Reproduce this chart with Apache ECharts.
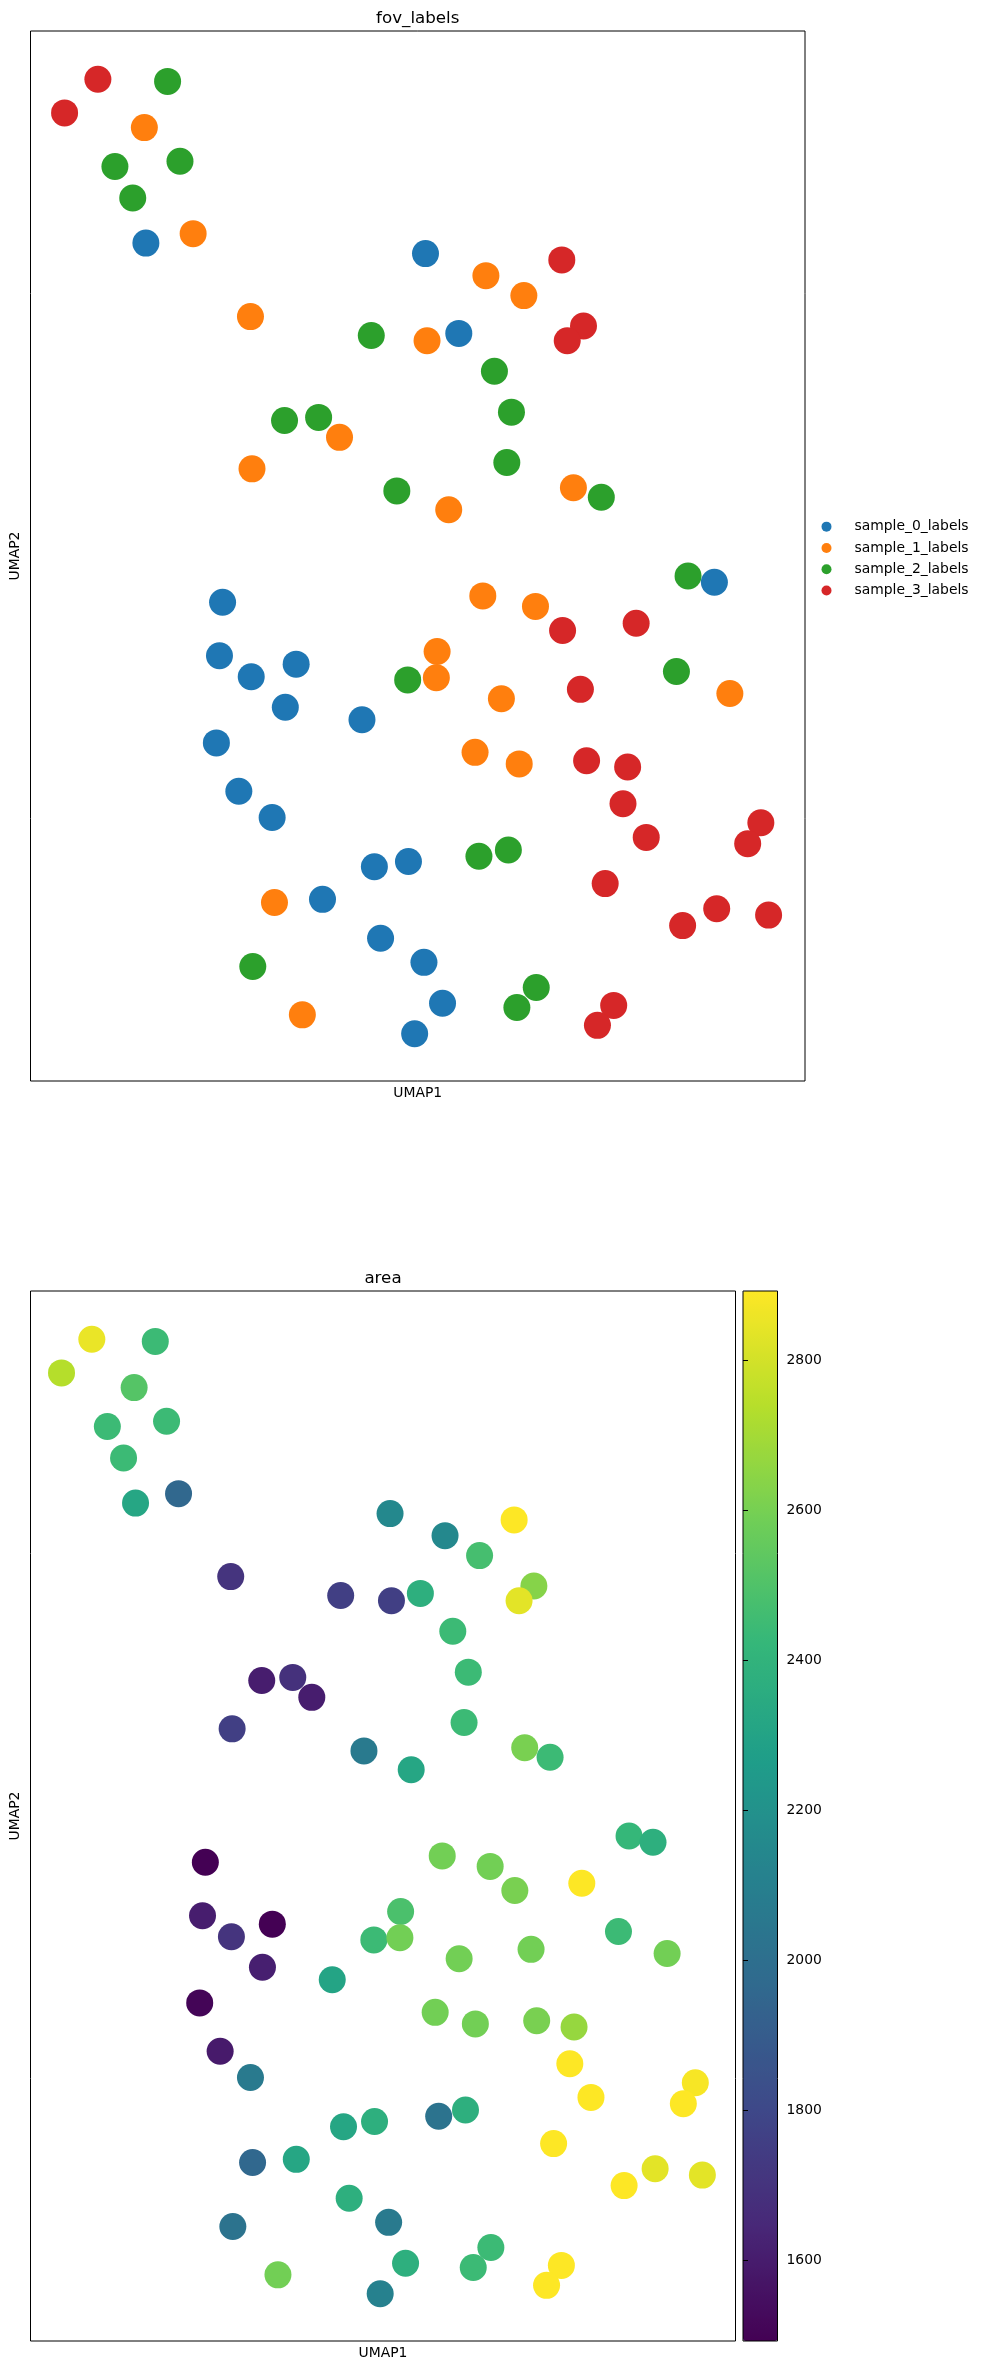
<!DOCTYPE html>
<html>
<head>
<meta charset="utf-8">
<script src="https://cdn.jsdelivr.net/npm/echarts@6/dist/echarts.min.js"></script>
<style>
html,body{margin:0;padding:0;background:#fff}
#chart{width:985px;height:2371px}
</style>
</head>
<body>
<div id="chart"></div>
<script>
// fov label categories and their tab10 colours
const categories = ['sample_0_labels', 'sample_1_labels', 'sample_2_labels', 'sample_3_labels'];
const catColors = ['#1f77b4', '#ff7f0e', '#2ca02c', '#d62728'];

// embedding coordinates, one entry per cell
const umap1 = [0.87,1.77,0.44,1.47,1.09,1.93,1.32,1.49,2.10,5.10,
               2.84,4.40,5.12,5.88,6.86,6.37,5.53,7.14,6.93,5.99,
               3.28,3.72,3.99,2.86,4.73,2.48,2.44,2.85,3.43,3.29,
               4.28,4.87,6.21,6.15,5.40,7.01,7.37,8.49,8.83,5.84,
               6.52,6.87,7.82,5.25,5.24,6.08,7.10,8.34,9.03,2.40,
               2.69,3.12,4.44,4.88,3.15,3.77,4.52,5.08,2.87,3.51,
               4.96,5.74,6.31,7.18,7.71,7.65,7.95,9.43,9.26,5.79,
               6.17,7.42,8.42,8.86,9.53,5.32,6.53,6.28,7.53,7.32];
const umap2 = [9.54,9.52,9.22,9.08,8.71,8.76,8.41,7.98,8.07,7.88,
               7.28,7.10,7.05,7.67,7.82,7.48,7.12,7.19,7.05,6.76,
               6.29,6.32,6.13,5.83,5.62,4.56,4.05,3.85,3.97,3.56,
               3.44,3.82,6.37,5.89,5.44,5.65,5.56,4.81,4.75,4.62,
               4.52,4.29,4.36,4.09,3.84,3.64,3.73,3.90,3.69,3.22,
               2.76,2.51,2.04,2.09,1.70,1.73,1.36,1.13,1.09,0.63,
               0.45,3.13,3.02,3.05,2.99,2.64,2.32,2.46,2.26,2.14,
               2.20,1.88,1.48,1.64,1.58,0.74,0.89,0.70,0.72,0.53];
// index into categories
const fovIdx = [3,2,3,1,2,2,2,0,1,0,
                1,2,1,1,3,1,0,3,3,2,
                2,2,1,1,2,0,0,0,0,0,
                0,2,2,2,1,1,2,2,0,1,
                1,3,3,1,1,1,3,2,1,0,
                0,0,0,0,1,0,0,0,2,1,
                0,1,1,3,3,3,3,3,3,2,
                2,3,3,3,3,0,2,2,3,3];
const area = [2850,2444,2737,2514,2444,2444,2444,2318,1958,2150,
              1702,1758,1758,2150,2892,2472,2374,2633,2835,2444,
              1604,1688,1604,1758,2066,1492,1604,1702,1492,1611,
              2304,2444,2444,2444,2318,2605,2444,2426,2374,2590,
              2590,2605,2892,2486,2590,2590,2590,2444,2590,1506,
              1590,2066,2318,2374,1958,2318,2374,2066,2024,2590,
              2108,2590,2590,2605,2668,2892,2892,2880,2892,2024,
              2374,2892,2892,2835,2835,2374,2444,2444,2892,2892];

const areaMin = 1492, areaMax = 2892;
const areaTicks = [1600, 1800, 2000, 2200, 2400, 2600, 2800];
const viridis = ['#440154','#482878','#3e4989','#31688e','#26828e','#1f9e89','#35b779','#6ece58','#b5de2b','#fde725'];

const FONT = 'DejaVu Sans';
const txt = {fontFamily: FONT, color: '#000'};

function plainAxis(gridIndex, name, extra){
  return Object.assign({
    gridIndex: gridIndex, type: 'value', min: 0, max: 10,
    name: name, nameLocation: 'middle',
    nameTextStyle: Object.assign({fontSize: 13.9}, txt),
    axisLine: {show: false}, axisTick: {show: false},
    axisLabel: {show: false}, splitLine: {show: false}
  }, extra || {});
}

const series = categories.map((c, k) => ({
  name: c, type: 'scatter', xAxisIndex: 0, yAxisIndex: 0,
  symbolSize: 27, z: k === 2 ? 1 : 2,
  itemStyle: {color: catColors[k], opacity: 1},
  data: umap1.map((x, i) => [x, umap2[i], fovIdx[i]]).filter(d => d[2] === k).map(d => [d[0], d[1]])
}));
series.push({
  name: 'area', type: 'scatter', xAxisIndex: 1, yAxisIndex: 1,
  symbolSize: 27, itemStyle: {opacity: 1},
  data: umap1.map((x, i) => [x, umap2[i], area[i]])
});

const chart = echarts.init(document.getElementById('chart'), null, {renderer: 'canvas'});
chart.setOption({
  animation: false,
  backgroundColor: '#fff',
  title: [
    {text: 'fov_labels', left: 417.75, top: 10, textAlign: 'center', padding: 0,
     textStyle: Object.assign({fontSize: 16.7, fontWeight: 'normal'}, txt)},
    {text: 'area', left: 383, top: 1270, textAlign: 'center', padding: 0,
     textStyle: Object.assign({fontSize: 16.7, fontWeight: 'normal'}, txt)}
  ],
  legend: {
    orient: 'vertical', left: 821.5, top: 519.5, padding: 0,
    itemWidth: 46, itemHeight: 10, itemGap: 7, icon: 'circle',
    data: categories,
    textStyle: Object.assign({fontSize: 13.9, lineHeight: 14.3}, txt)
  },
  grid: [
    {left: 30.5, top: 31, width: 774.5, height: 1050, show: true, borderColor: '#000', borderWidth: 1, backgroundColor: 'transparent'},
    {left: 30.5, top: 1291, width: 705, height: 1050, show: true, borderColor: '#000', borderWidth: 1, backgroundColor: 'transparent'},
    {left: 743, top: 1291, width: 34.5, height: 1050, show: true, borderColor: '#000', borderWidth: 1, backgroundColor: 'transparent', z: 10}
  ],
  xAxis: [
    plainAxis(0, 'UMAP1', {nameGap: 5}),
    plainAxis(1, 'UMAP1', {nameGap: 5}),
    {gridIndex: 2, type: 'value', show: false, min: 0, max: 1}
  ],
  yAxis: [
    plainAxis(0, 'UMAP2', {nameGap: 8, nameRotate: 90}),
    plainAxis(1, 'UMAP2', {nameGap: 8, nameRotate: 90}),
    {
      gridIndex: 2, type: 'value', position: 'right', min: areaMin, max: areaMax, z: 10,
      axisLine: {show: false},
      axisTick: {show: true, inside: false, length: 5, lineStyle: {color: '#000', width: 1}, customValues: areaTicks},
      axisLabel: Object.assign({show: true, margin: 9, fontSize: 13.9, customValues: areaTicks,
        formatter: v => String(v)}, txt),
      splitLine: {show: false}
    }
  ],
  visualMap: {
    type: 'continuous', seriesIndex: 4, dimension: 2,
    min: areaMin, max: areaMax, calculable: false, hoverLink: false,
    left: 743, top: 1291, padding: 0, itemWidth: 34.5, itemHeight: 1050,
    text: null, showLabel: false,
    inRange: {color: viridis}
  },
  series: series
});
</script>
</body>
</html>
